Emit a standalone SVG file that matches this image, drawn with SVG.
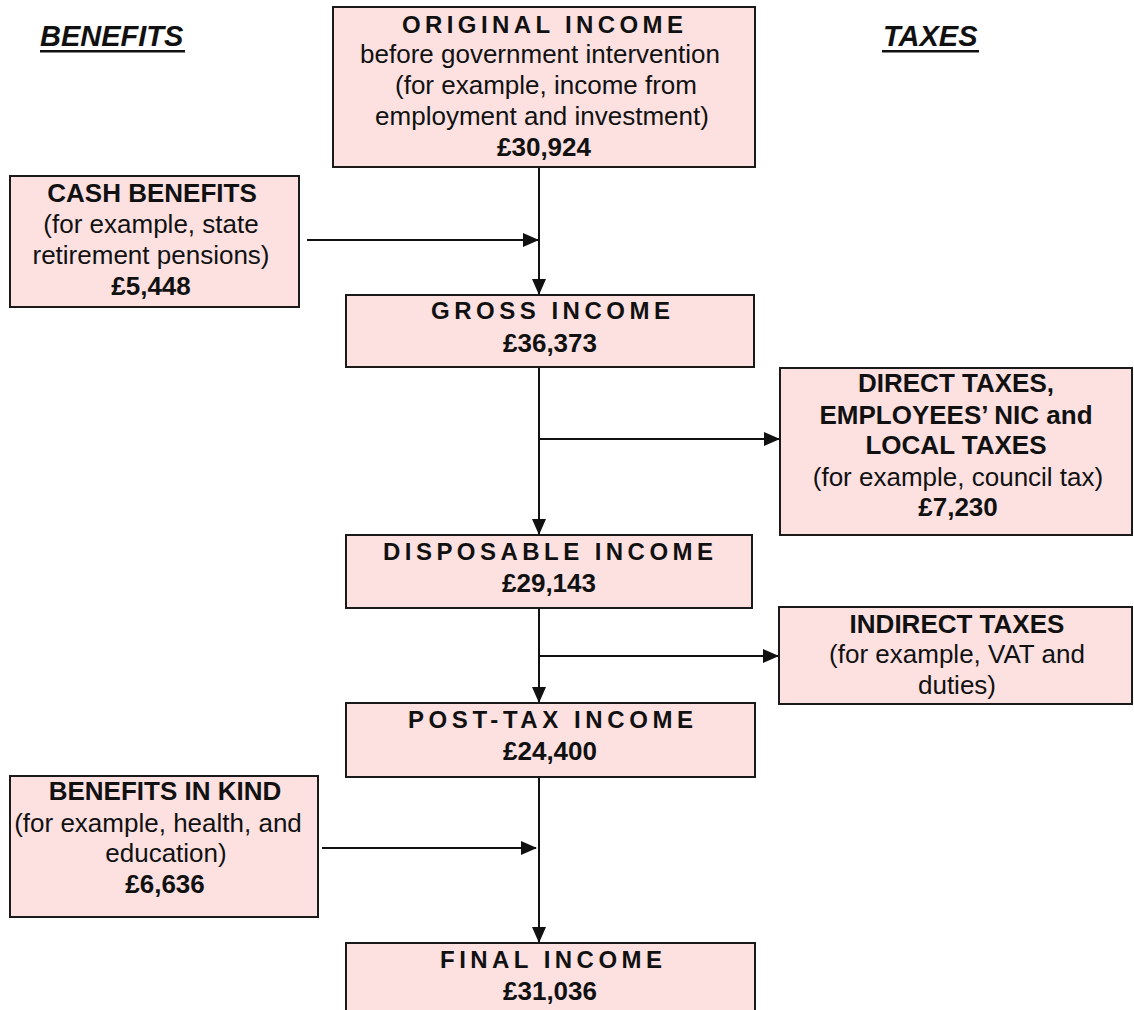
<svg xmlns="http://www.w3.org/2000/svg" width="1134" height="1010" viewBox="0 0 1134 1010">
<style>
.box{fill:#fde1e1;stroke:#1a1a1a;stroke-width:2}
text{font-family:"Liberation Sans",Arial,sans-serif;fill:#111;text-anchor:middle}
.r{font-size:26px}
.b{font-size:26px;font-weight:bold}
.t{font-size:24px;font-weight:bold;text-anchor:start}
.h{font-size:29px;font-weight:bold;font-style:italic;text-anchor:start}
.ln{stroke:#111;stroke-width:2;fill:none}
</style>
<defs>
<marker id="ah" markerWidth="16" markerHeight="14" refX="15" refY="7" orient="auto" markerUnits="userSpaceOnUse">
<path d="M0,0 L16,7 L0,14 Z" fill="#111"/>
</marker>
</defs>
<rect width="1134" height="1010" fill="#fff"/>
<g id="headers">
<text class="h" x="40" y="46">BENEFITS</text>
<rect x="40" y="50" width="145" height="2.5" fill="#111"/>
<text class="h" x="883" y="46">TAXES</text>
<rect x="882" y="50" width="97" height="2.5" fill="#111"/>
</g>
<g id="connectors">
<line class="ln" x1="539" y1="167" x2="539" y2="294" marker-end="url(#ah)"/>
<line class="ln" x1="307" y1="240" x2="538" y2="240" marker-end="url(#ah)"/>
<line class="ln" x1="539" y1="367" x2="539" y2="534" marker-end="url(#ah)"/>
<line class="ln" x1="539" y1="439" x2="779" y2="439" marker-end="url(#ah)"/>
<line class="ln" x1="539" y1="608" x2="539" y2="702" marker-end="url(#ah)"/>
<line class="ln" x1="539" y1="656" x2="778" y2="656" marker-end="url(#ah)"/>
<line class="ln" x1="539" y1="777" x2="539" y2="942" marker-end="url(#ah)"/>
<line class="ln" x1="322" y1="848" x2="536" y2="848" marker-end="url(#ah)"/>
</g>
<g id="original">
<rect class="box" x="333" y="7" width="422" height="160"/>
<text class="t" x="402" y="33" textLength="281">ORIGINAL INCOME</text>
<text class="r" x="540" y="63">before government intervention</text>
<text class="r" x="546" y="94">(for example, income from</text>
<text class="r" x="542" y="125">employment and investment)</text>
<text class="b" x="544" y="156">£30,924</text>
</g>
<g id="cash">
<rect class="box" x="10" y="176" width="289" height="131"/>
<text class="b" x="152" y="202">CASH BENEFITS</text>
<text class="r" x="151" y="233">(for example, state</text>
<text class="r" x="151" y="264">retirement pensions)</text>
<text class="b" x="151" y="295">£5,448</text>
</g>
<g id="gross">
<rect class="box" x="346" y="295" width="408" height="72"/>
<text class="t" x="431" y="319" textLength="239">GROSS INCOME</text>
<text class="b" x="550" y="352">£36,373</text>
</g>
<g id="direct">
<rect class="box" x="780" y="368" width="352" height="167"/>
<text class="b" x="956" y="392">DIRECT TAXES,</text>
<text class="b" x="956" y="424">EMPLOYEES’ NIC and</text>
<text class="b" x="956" y="454">LOCAL TAXES</text>
<text class="r" x="958" y="486">(for example, council tax)</text>
<text class="b" x="958" y="516">£7,230</text>
</g>
<g id="disposable">
<rect class="box" x="346" y="535" width="406" height="73"/>
<text class="t" x="383" y="560" textLength="330">DISPOSABLE INCOME</text>
<text class="b" x="549" y="592">£29,143</text>
</g>
<g id="indirect">
<rect class="box" x="779" y="607" width="353" height="97"/>
<text class="b" x="957" y="633">INDIRECT TAXES</text>
<text class="r" x="957" y="663">(for example, VAT and</text>
<text class="r" x="957" y="694">duties)</text>
</g>
<g id="posttax">
<rect class="box" x="346" y="703" width="409" height="74"/>
<text class="t" x="408" y="728" textLength="285">POST-TAX INCOME</text>
<text class="b" x="550" y="760">£24,400</text>
</g>
<g id="inkind">
<rect class="box" x="10" y="776" width="308" height="141"/>
<text class="b" x="165" y="800">BENEFITS IN KIND</text>
<text class="r" x="158" y="832">(for example, health, and</text>
<text class="r" x="166" y="862">education)</text>
<text class="b" x="165" y="893">£6,636</text>
</g>
<g id="final">
<rect class="box" x="346" y="943" width="409" height="80"/>
<text class="t" x="440" y="968" textLength="222">FINAL INCOME</text>
<text class="b" x="550" y="1000">£31,036</text>
</g>
</svg>
